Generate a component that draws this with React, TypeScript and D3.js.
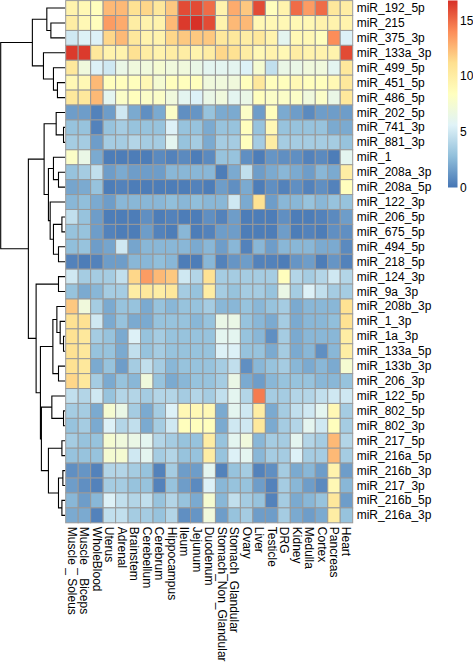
import React from "react";
import * as d3 from "d3";

const rowNames = [
  "miR_192_5p", "miR_215", "miR_375_3p", "miR_133a_3p", "miR_499_5p", "miR_451_5p", "miR_486_5p",
  "miR_202_5p", "miR_741_3p", "miR_881_3p", "miR_1", "miR_208a_3p", "miR_208a_5p", "miR_122_3p",
  "miR_206_5p", "miR_675_5p", "miR_494_5p", "miR_218_5p", "miR_124_3p", "miR_9a_3p", "miR_208b_3p",
  "miR_1_3p", "miR_1a_3p", "miR_133a_5p", "miR_133b_3p", "miR_206_3p", "miR_122_5p", "miR_802_5p",
  "miR_802_3p", "miR_217_5p", "miR_216a_5p", "miR_216b_3p", "miR_217_3p", "miR_216b_5p", "miR_216a_3p",
];

const colNames = [
  "Muscle _ Soleus", "Muscle _ Biceps", "WholeBlood", "Uterus", "Adrenal", "Brainstem", "Cerebellum",
  "Cerebrum", "Hippocampus", "Ileum", "Jejunum", "Duodenum", "Stomach_Non_Glandular", "Stomach_Glandular",
  "Ovary", "Liver", "Testicle", "DRG", "Kidney", "Medulla", "Cortex", "Pancreas", "Heart",
];

// rows x columns (log2 expression)
const values: number[][] = [
  [9.5, 9, 8.5, 12.5, 12.5, 11, 11.5, 10.5, 12, 16, 16, 15, 9.5, 13, 12, 16, 8.5, 9.5, 15, 13.5, 15, 10.5, 10],
  [10, 9, 8.5, 13.5, 13, 10, 9.5, 9.5, 12.5, 16.5, 16.8, 16, 9.5, 12.5, 12.5, 9, 9, 9, 9, 9, 9.5, 9.5, 9.5],
  [5, 5.5, 5.5, 11.5, 12.5, 10.5, 9.5, 9.5, 11.5, 12, 12, 12, 10.5, 10.5, 10, 10.5, 9.5, 6, 9, 9, 8.5, 14, 5.5],
  [16.5, 16.5, 10.5, 9.5, 9.5, 11, 10, 9.5, 10, 10, 9.5, 10, 11.5, 11, 10, 9, 9.5, 9, 10, 9.5, 9.5, 9.5, 16],
  [10.5, 7, 5.5, 5, 6.5, 7, 7, 7.5, 7, 7, 6.5, 6, 6, 6, 5.5, 7.5, 4.5, 6.5, 6.5, 7, 7, 6, 10.5],
  [9, 9, 12.5, 8.5, 8.5, 8.5, 9, 7.5, 8.5, 8.5, 8.5, 7, 7, 7, 8.5, 10.5, 8.5, 8.5, 9, 8.5, 8.5, 9, 10.5],
  [10.5, 10.5, 12.5, 6, 8, 8.5, 8, 8, 7, 6, 5.5, 6.5, 7, 6, 6.5, 8.5, 8, 8, 8, 7, 8, 6.5, 10.5],
  [1.5, 1.5, 0.5, 1.5, 5, 2, 1, 2, 8, 1, 1.2, 3, 2, 2, 8, 1.5, 8.5, 2, 1.5, 0.8, 1.5, 1.5, 1.5],
  [3, 3, 0.5, 3, 3.5, 3, 3, 3, 5.5, 3, 3, 2, 3, 3, 8.5, 3, 9, 3, 3, 3, 3, 2, 2],
  [3.5, 3.5, 1.5, 3.5, 3.5, 4, 3.5, 3.5, 6, 3, 3.5, 2, 3.5, 3.5, 8.5, 3.5, 10, 3.5, 3.5, 3.5, 3.5, 3.5, 3],
  [8, 6.5, 2, 0.3, 0.3, 0.3, 0.3, 0.8, 0.5, 0.8, 0.3, 0.8, 3, 3, 1, 0.3, 1.2, 1, 1, 0.5, 0.8, 0.3, 6],
  [3, 3.5, 4.5, 1.5, 2, 1.5, 1.5, 1.5, 2.5, 2.5, 2.5, 2.5, 0.3, 2, 4.5, 1.5, 2, 2.5, 2, 1.5, 2.5, 2, 10],
  [1.8, 2, 3, 0.3, 0.5, 0.3, 0.3, 0.3, 0.3, 0.3, 0.5, 0.3, 1.5, 1, 2, 0.3, 1, 0.5, 1, 0.5, 1, 0.5, 8.5],
  [2.5, 2.8, 2, 1.5, 2.5, 2.5, 2.5, 2.5, 2.8, 2.5, 2.8, 2.5, 2.5, 5, 2, 11, 1.5, 2.5, 2.5, 3, 2.5, 3, 3],
  [4.5, 3, 1.5, 0.3, 0.3, 0.3, 1, 0.3, 0.5, 0.3, 0.3, 1, 0.5, 1.5, 0.3, 0.3, 0.3, 1, 0.3, 0.3, 0.5, 0.8, 1.5],
  [3, 3, 1.5, 0.5, 0.3, 0.3, 1.5, 0.5, 0.3, 2.5, 0.3, 0.5, 1.5, 1.5, 0.3, 0.3, 0.3, 1.5, 0.3, 0.5, 0.3, 1, 1],
  [2.8, 3, 1.5, 1.8, 5, 1.8, 2.5, 2.5, 2.5, 2.5, 2, 2.5, 1.5, 2.5, 0.5, 2.5, 1.5, 2.5, 2.5, 2.5, 2, 2, 0.8],
  [0.5, 0.3, 0.5, 1.5, 1.5, 2.5, 2.5, 2.8, 2.5, 0.3, 0.3, 2.5, 0.5, 1.2, 1.5, 0.5, 0.5, 0.3, 1.2, 1.5, 0.3, 1.2, 0.5],
  [5, 3.5, 3.5, 3.5, 4.5, 11.5, 13.5, 12.5, 12, 5, 4, 11, 3.5, 3.5, 3.5, 3.5, 3.5, 8.5, 4, 3.5, 4, 5, 4],
  [3, 2, 2.5, 3.5, 3.5, 10, 10.5, 10, 10.5, 3.5, 3, 10, 3.5, 3, 3.5, 3.5, 3, 6.5, 3.5, 5.5, 4.5, 3.5, 3.5],
  [12, 7, 3.5, 2, 3, 3, 2, 3, 2.5, 3, 3, 3.5, 2.5, 2.5, 3, 2.5, 3, 3.5, 2, 2.5, 2.5, 2.5, 11],
  [11, 11, 5, 2, 3, 2, 2, 3, 3, 3, 2.5, 3, 6.5, 6.5, 3, 2.5, 2, 3.5, 2, 2.5, 2.5, 2.8, 11],
  [11, 10.5, 3.5, 3, 2, 5.5, 3, 3.5, 3, 3, 3, 3, 6, 6, 3, 2.5, 1, 3.5, 2, 2.5, 2.5, 2.5, 10],
  [11, 10.5, 3, 3, 2, 4.5, 3, 3.5, 3, 3, 3, 3, 5.5, 5.5, 3, 3, 2, 3.5, 2, 2.5, 1, 2.5, 10],
  [11, 10.5, 2, 3, 1.5, 3.5, 4.5, 3.5, 2.5, 3, 3, 3, 3.5, 4.5, 1, 2.5, 3, 3.5, 2.5, 2, 2.5, 2, 7.5],
  [11.5, 10.5, 3.5, 2, 3, 2.5, 7, 3, 2, 2.5, 3, 3, 3.5, 6.5, 2, 1.5, 2.5, 3, 3, 3, 2.5, 2.5, 3],
  [4.5, 4, 5, 3, 4, 4, 3.5, 4, 4, 3.5, 4, 3.5, 4.5, 6, 4, 14.5, 3.5, 3.5, 4, 4, 4.5, 5, 5],
  [3.5, 3.5, 2, 7.5, 6.5, 3.5, 2, 3.5, 5.5, 9, 9, 9, 2, 6, 5, 10, 2, 3.5, 4.5, 5, 6, 9, 3.5],
  [3, 3.5, 2, 5.5, 4, 4.5, 2, 3.5, 5, 8.5, 8.5, 8.5, 2, 5, 5, 10.5, 2, 3.5, 4, 6, 5, 8.5, 3.5],
  [3.5, 3, 3, 7.5, 7, 6.5, 6, 4, 3.5, 3, 3, 10, 3, 6, 7, 2.5, 3.5, 3.5, 6, 4, 3.5, 12.5, 4],
  [3, 3, 3, 7.5, 7.5, 5, 6, 3.5, 4, 3, 3, 10, 3, 5.5, 6, 2.5, 3.5, 3.5, 5.5, 3.5, 3.5, 12.5, 3.5],
  [1, 1.2, 0.5, 4, 4, 3.5, 3, 0.5, 3.5, 1.5, 1.5, 6, 0.5, 3, 3.5, 0.5, 1, 3.5, 2, 2.5, 1.5, 9.5, 1.5],
  [1.5, 1, 0.5, 3.5, 3.5, 3, 3, 0.5, 3, 1.5, 0.8, 5.5, 2.5, 3, 3, 1.5, 0.5, 3.5, 2.5, 1.5, 0.8, 9, 2.5],
  [2.5, 1.5, 2.5, 5.5, 4.5, 4, 4.5, 3, 4, 3, 2, 7.5, 2.5, 4.5, 3.5, 3, 0.5, 3.5, 2, 2.5, 3, 10.5, 1.5],
  [2, 2, 0.5, 4.5, 4.5, 3.5, 3.5, 3, 4, 1, 1.2, 7, 1.5, 3, 3.5, 1.5, 1.5, 3.5, 2, 1.5, 2, 10, 3],
];

// hclust-style merges: negative = leaf (1-based row), positive = earlier merge (1-based), then height
const rowMerges: [number, number, number][] = [
  [-2, -3, 22.2], [-1, 1, 28.5], [-6, -7, 12.0], [-5, 3, 18.2], [-4, 4, 33.7], [2, 5, 50.9],
  [-9, -10, 2.6], [-8, 7, 14.0], [-12, -13, 10.4], [-11, 9, 18.2], [-15, -16, 5.1], [-17, -18, 10.4],
  [11, 12, 18.2], [-14, 13, 23.3], [10, 14, 26.0], [8, 15, 32.7], [-19, -20, 10.4], [-23, -24, 2.6],
  [-22, 18, 7.8], [-21, 19, 12.9], [-25, -26, 10.4], [20, 21, 19.1], [-28, -29, 2.6], [-27, 23, 20.7],
  [-30, -31, 5.1], [-32, -33, 3.6], [-34, -35, 5.1], [26, 27, 10.4], [25, 28, 26.0], [24, 29, 36.9],
  [22, 30, 38.4], [17, 31, 45.1], [16, 32, 57.1], [6, 33, 100],
];

const legendTicks = [0, 5, 10, 15];
const valueMax = 16.8;
const palette = ["#4575B4", "#91BFDB", "#E0F3F8", "#FFFFBF", "#FEE090", "#FC8D59", "#D73027"];

const W = 473;
const H = 667;
const FONT = "'Liberation Sans', Arial, Helvetica, sans-serif";

export default function App() {
  const heat = { left: 65.7, right: 352.7, top: 0.6, bottom: 522.8 };
  const x = d3.scaleBand<string>().domain(colNames).range([heat.left, heat.right]);
  const y = d3.scaleBand<string>().domain(rowNames).range([heat.top, heat.bottom]);
  const color = d3
    .scaleLinear<string>()
    .domain(palette.map((_, i) => (i * valueMax) / (palette.length - 1)))
    .range(palette)
    .interpolate(d3.interpolateRgb);

  const dx = d3.scaleLinear().domain([0, 100]).range([65.2, 0.7]);

  // dendrogram layout
  const nodeY: number[] = [];
  const nodeH: number[] = [];
  const childPos = (id: number): [number, number] => {
    if (id < 0) {
      const r = -id - 1;
      return [dx(0), (y(rowNames[r]) as number) + y.bandwidth() / 2];
    }
    return [dx(nodeH[id - 1]), nodeY[id - 1]];
  };
  const segs: string[] = [];
  rowMerges.forEach(([a, b, h], i) => {
    const [ax, ay] = childPos(a);
    const [bx, by] = childPos(b);
    const nx = dx(h);
    nodeH[i] = h;
    nodeY[i] = (ay + by) / 2;
    segs.push(`M${ax},${ay}H${nx}V${by}H${bx}`);
  });

  const ly = d3.scaleLinear().domain([0, valueMax]).range([187.5, 0.5]);
  const legendX = 448;
  const legendW = 9.5;

  return (
    <svg
      width={W}
      height={H}
      style={{ position: "absolute", left: 0, top: 0, background: "#fff" }}
      fontFamily={FONT}
    >
      <defs>
        <linearGradient id="lg" x1="0" y1="1" x2="0" y2="0">
          {palette.map((c, i) => (
            <stop key={i} offset={i / (palette.length - 1)} stopColor={c} />
          ))}
        </linearGradient>
      </defs>
      <rect width={W} height={H} fill="#fff" />
      {/* dendrogram */}
      <g fill="none" stroke="#000" strokeWidth={1.1}>
        {segs.map((d, i) => (
          <path key={i} d={d} />
        ))}
      </g>
      {/* cells */}
      <g stroke="#999999" strokeWidth={1}>
        {values.map((row, r) =>
          row.map((v, c) => (
            <rect
              key={`${r}-${c}`}
              x={x(colNames[c])}
              y={y(rowNames[r])}
              width={x.bandwidth()}
              height={y.bandwidth()}
              fill={color(v)}
            />
          ))
        )}
      </g>
      {/* row labels */}
      <g fontSize={12} fill="#000">
        {rowNames.map((n) => (
          <text
            key={n}
            x={heat.right + 4}
            y={(y(n) as number) + y.bandwidth() / 2}
            dominantBaseline="central"
          >
            {n}
          </text>
        ))}
      </g>
      {/* column labels */}
      <g fontSize={12} fill="#000">
        {colNames.map((n) => {
          const cx = (x(n) as number) + x.bandwidth() / 2;
          const cy = heat.bottom + 4;
          return (
            <text
              key={n}
              transform={`translate(${cx},${cy}) rotate(90)`}
              dominantBaseline="central"
              textAnchor="start"
            >
              {n}
            </text>
          );
        })}
      </g>
      {/* legend */}
      <rect x={legendX} y={ly(valueMax)} width={legendW} height={ly(0) - ly(valueMax)} fill="url(#lg)" />
      <g fontSize={12} fill="#000">
        {legendTicks.map((t) => (
          <text key={t} x={legendX + legendW + 2.5} y={ly(t)} dominantBaseline="central">
            {t}
          </text>
        ))}
      </g>
    </svg>
  );
}
